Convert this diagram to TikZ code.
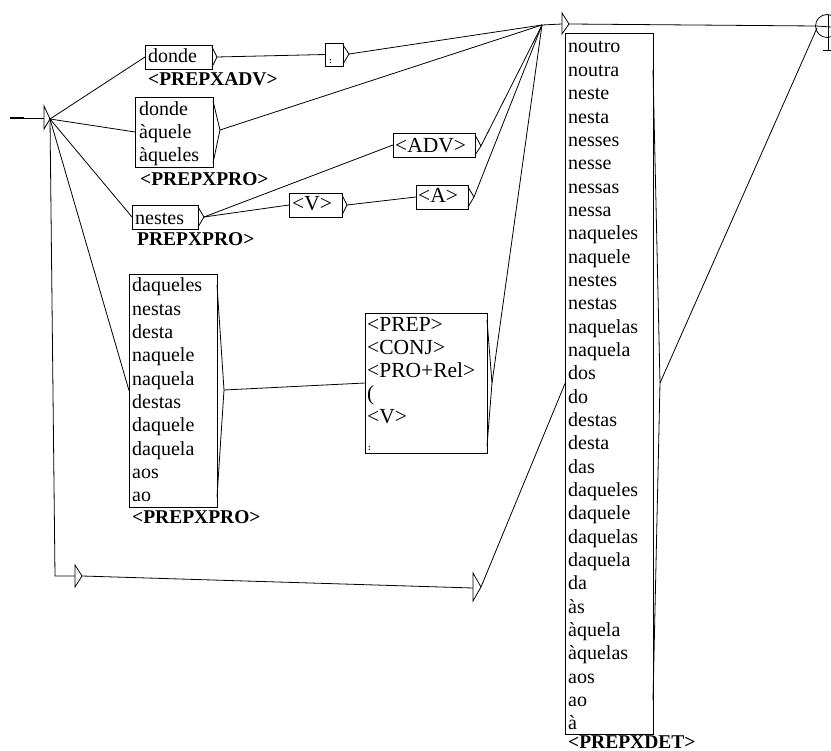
\documentclass[tikz,border=0pt]{standalone}
\usepackage{fontspec}
\setmainfont{Liberation Serif}
\begin{document}
\begin{tikzpicture}[x=1pt,y=-1pt,
  ln/.style={line width=0.8pt},
  boxr/.style={draw,line width=0.8pt,inner sep=0pt,outer sep=0pt,anchor=north west},
  wtext/.style={font=\fontsize{20}{23}\selectfont,inner sep=0pt,anchor=base west},
  ttext/.style={font=\fontsize{21.5}{23}\selectfont,inner sep=0pt,anchor=base west},
  smalltext/.style={font=\fontsize{9}{9}\selectfont\bfseries,inner sep=0pt,anchor=base west},
  lbl/.style={font=\fontsize{19.5}{22}\selectfont\bfseries,inner sep=0pt,anchor=base west}]
\useasboundingbox (0,0) rectangle (831,751);

% ---------- boxes ----------
\node[boxr,minimum width=67pt,minimum height=24pt] (donde) at (145,45) {};
\node[boxr,minimum width=78pt,minimum height=70pt] (dqq) at (135,97) {};
\node[boxr,minimum width=66pt,minimum height=24pt] (nestes) at (132,205) {};
\node[boxr,minimum width=18pt,minimum height=23pt] (colon) at (325,43) {};
\node[boxr,minimum width=82pt,minimum height=24pt] (adv) at (393,133) {};
\node[boxr,minimum width=53pt,minimum height=24pt] (vb) at (289,193) {};
\node[boxr,minimum width=52pt,minimum height=24pt] (ab) at (416,185) {};
\node[boxr,minimum width=88pt,minimum height=233pt] (daq) at (129,274) {};
\node[boxr,minimum width=122pt,minimum height=140pt] (prep) at (365,313) {};
\node[boxr,minimum width=88pt,minimum height=701pt] (big) at (565,33) {};

% ---------- output tips ----------
\coordinate (dondeT) at (217,57);
\coordinate (dqqT) at (220,130);
\coordinate (nestesT) at (204,217);
\coordinate (colonT) at (349,54);
\coordinate (advT) at (481,146);
\coordinate (vbT) at (347,205);
\coordinate (abT) at (474,197);
\coordinate (daqT) at (224,390);
\coordinate (prepT) at (492,383);
\coordinate (bigT) at (660,383);

\draw[ln] (212,47) -- (dondeT) -- (212,67);
\draw[ln] (213,101) -- (dqqT) -- (213,163);
\draw[ln] (198,207) -- (nestesT) -- (198,227);
\draw[ln] (343,45) -- (colonT) -- (343,64);
\draw[ln] (475,135) -- (advT) -- (475,155);
\draw[ln] (342,195) -- (vbT) -- (342,215);
\draw[ln] (468,187) -- (abT) -- (468,207);
\draw[ln] (217,285) -- (daqT) -- (217,497);
\draw[ln] (487,320) -- (prepT) -- (487,446);
\draw[ln] (653,70) -- (bigT) -- (653,700);

% ---------- texts ----------
\node[wtext] (t1) at (148,63) {donde};
\node[lbl] (l1) at (148,86) {<PREPXADV>};
\node[wtext] (q0) at (139,116) {donde};
\node[wtext] (q1) at (139,139) {àquele};
\node[wtext] (q2) at (139,162) {àqueles};
\node[lbl] (l2) at (140,186) {<PREPXPRO>};
\node[wtext] (t3) at (135,225) {nestes};
\node[lbl] (l3) at (137,246) {PREPXPRO>};
\node[smalltext] (c1) at (329,64) {:};
\node[ttext] (t4) at (395,153) {<ADV>};
\node[ttext] (t5) at (292,211) {<V>};
\node[ttext] (t6) at (418,203) {<A>};
\foreach \w [count=\i from 0] in {daqueles,nestas,desta,naquele,naquela,destas,daquele,daquela,aos,ao}
  \node[wtext] (d\i) at (132,292+23.3*\i) {\w};
\node[lbl] (l4) at (132,523) {<PREPXPRO>};
\node[ttext] (p0) at (367,332) {<PREP>};
\node[ttext] (p1) at (367,355) {<CONJ>};
\node[ttext] (p2) at (367,378) {<PRO+Rel>};
\node[ttext] (p3) at (367,401) {(};
\node[ttext] (p4) at (367,424) {<V>};
\node[smalltext] (p5) at (368,451) {:};
\foreach \w [count=\i from 0] in {noutro,noutra,neste,nesta,nesses,nesse,nessas,nessa,naqueles,naquele,nestes,nestas,naquelas,naquela,dos,do,destas,desta,das,daqueles,daquele,daquelas,daquela,da,às,àquela,àquelas,aos,ao,à}
  \node[wtext] (b\i) at (568,53+23.34*\i) {\w};
\node[lbl] (l5) at (568,748) {<PREPXDET>};

% ---------- states ----------
\coordinate (in0) at (10,118);
\coordinate (in1) at (24,118);
\coordinate (s0) at (50,119);
\draw[line width=2pt] (in0) -- (in1);
\draw[ln] (in1) -- (44,118);
\draw[ln] (44,106) -- (s0) -- (44,129) -- cycle;

\coordinate (e1L) at (75,576);
\coordinate (e1T) at (82,576);
\draw[ln] (75,565) -- (e1T) -- (75,587) -- cycle;
\coordinate (e2L) at (473,588);
\coordinate (e2T) at (481,587);
\draw[ln] (473,573) -- (e2T) -- (473,601) -- cycle;
\coordinate (e3L) at (562,24);
\coordinate (e3T) at (569,24);
\draw[ln] (562,13) -- (e3T) -- (562,34) -- cycle;
\coordinate (join) at (542,25);

\coordinate (fin) at (816,26);
\draw[ln] (827,26) circle[radius=11.5pt];
\draw[ln] (828,15) -- (828,50);
\draw[ln] (823,50) -- (831,50);

% ---------- connectors ----------
\draw[ln] (s0) -- (donde.west);
\draw[ln] (s0) -- (dqq.west);
\draw[ln] (s0) -- (nestes.west);
\draw[ln] (s0) -- (daq.west);
\draw[ln] (s0) -- (55,576) -- (e1L);
\draw[ln] (e1T) -- (e2L);
\draw[ln] (e2T) -- (big.west);
\draw[ln] (dondeT) -- (colon.west);
\draw[ln] (colonT) -- (join);
\draw[ln] (dqqT) -- (join);
\draw[ln] (nestesT) -- (adv.west);
\draw[ln] (nestesT) -- (vb.west);
\draw[ln] (vbT) -- (ab.west);
\draw[ln] (advT) -- (join);
\draw[ln] (abT) -- (join);
\draw[ln] (daqT) -- (prep.west);
\draw[ln] (prepT) -- (join);
\draw[ln] (join) -- (e3L);
\draw[ln] (e3T) -- (fin) -- (831,27);
\draw[ln] (bigT) -- (817,28);
\end{tikzpicture}
\end{document}
